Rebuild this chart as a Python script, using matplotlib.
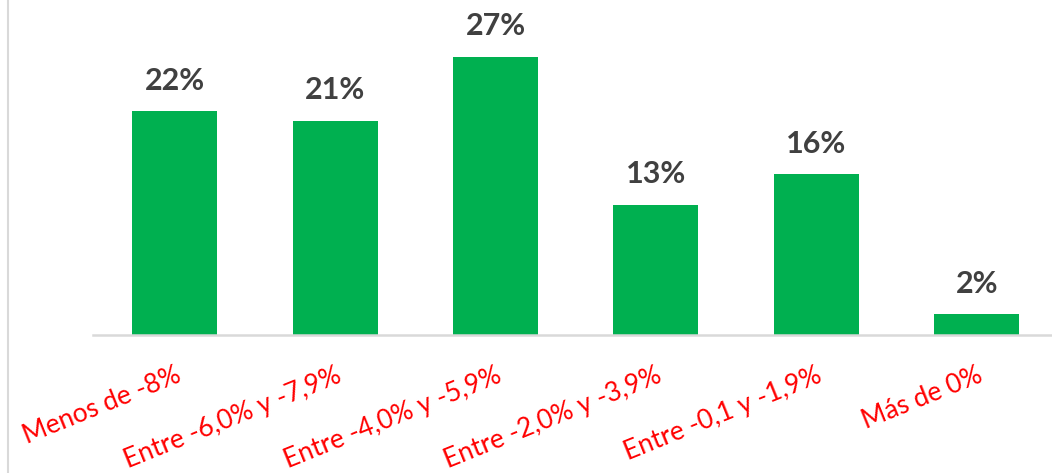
import matplotlib
matplotlib.use("Agg")
import matplotlib.pyplot as plt
from matplotlib.lines import Line2D

# data (percent)
categories = [
    "Menos de -8%",
    "Entre -6,0% y -7,9%",
    "Entre -4,0% y -5,9%",
    "Entre -2,0% y -3,9%",
    "Entre -0,1 y -1,9%",
    "Más de 0%",
]
values = [21.7, 20.8, 27.0, 12.6, 15.6, 2.0]

plt.rcParams["font.family"] = ["Lato", "DejaVu Sans"]

fig = plt.figure(figsize=(10.52, 4.73), dpi=100)
ax = fig.add_axes([93 / 1052, 138 / 473, 1 - 93 / 1052, 335 / 473])

x = list(range(len(categories)))
bars = ax.bar(x, values, width=0.53, color="#00B050", zorder=2)

for b, v in zip(bars, values):
    ax.annotate(
        "%.0f%%" % v,
        (b.get_x() + b.get_width() / 2, b.get_height()),
        xytext=(0, 12),
        textcoords="offset points",
        ha="center",
        va="bottom",
        fontsize=22,
        fontweight="bold",
        color="#404040",
    )

ax.set_xlim(-0.51, 5.47)
ax.set_ylim(0, 32.5)
ax.set_yticks([])
ax.set_xticks(x)
ax.set_xticklabels(
    categories, rotation=22, ha="right", rotation_mode="anchor",
    fontsize=19, color="#FF0000",
)
ax.tick_params(axis="x", length=0, pad=20)

for side in ["top", "right", "left"]:
    ax.spines[side].set_visible(False)
ax.spines["bottom"].set_color("#D9D9D9")
ax.spines["bottom"].set_linewidth(1.8)

# thin frame line on the left edge
fig.add_artist(Line2D([7.5 / 1052] * 2, [0, 1], transform=fig.transFigure,
                      color="#D9D9D9", lw=1.5))

fig.savefig("out.png", dpi=100)
